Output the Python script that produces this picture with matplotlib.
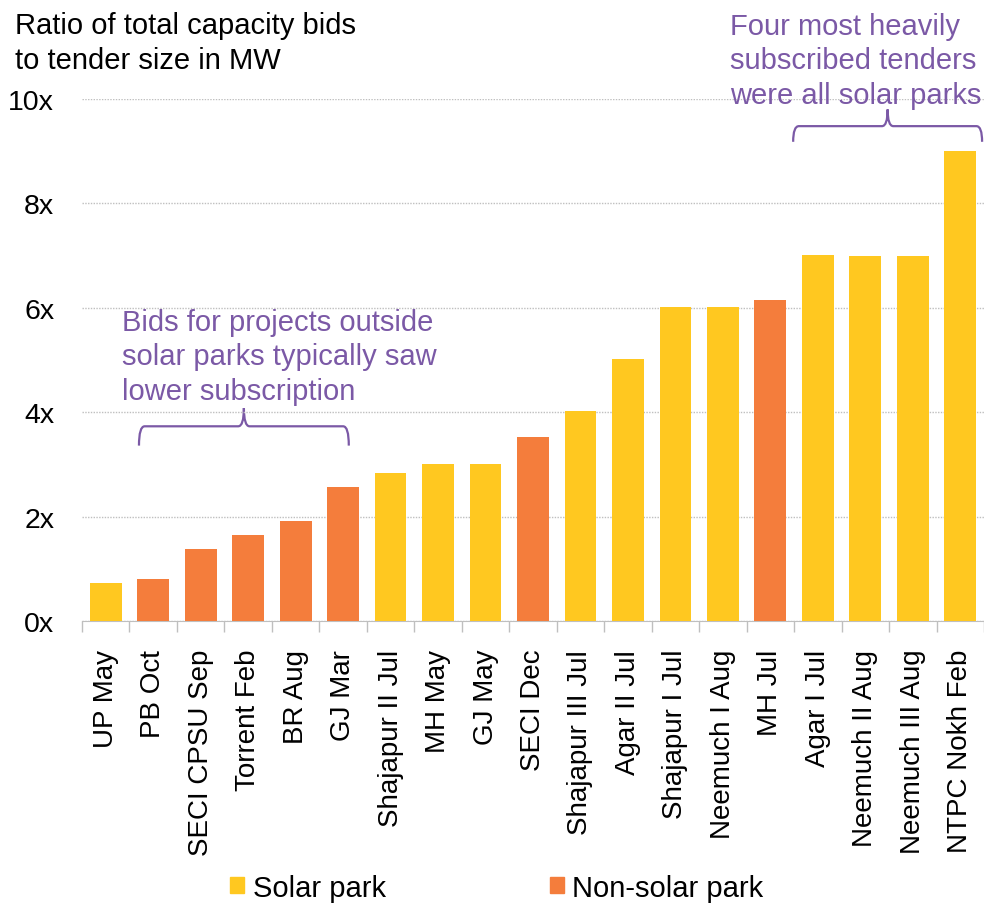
import numpy as np
import matplotlib
matplotlib.use("Agg")
import matplotlib.pyplot as plt
from matplotlib.path import Path
from matplotlib.patches import PathPatch, Patch

plt.rcParams['font.family'] = ['Liberation Sans', 'DejaVu Sans']

tenders = ["UP May", "PB Oct", "SECI CPSU Sep", "Torrent Feb", "BR Aug", "GJ Mar",
           "Shajapur II Jul", "MH May", "GJ May", "SECI Dec", "Shajapur III Jul",
           "Agar II Jul", "Shajapur I Jul", "Neemuch I Aug", "MH Jul", "Agar I Jul",
           "Neemuch II Aug", "Neemuch III Aug", "NTPC Nokh Feb"]
ratio = [0.73, 0.81, 1.38, 1.65, 1.92, 2.57, 2.84, 3.0, 3.0, 3.53, 4.03,
         5.02, 6.02, 6.02, 6.14, 7.02, 7.0, 7.0, 9.0]
park_type = ["Solar park", "Non-solar park", "Non-solar park", "Non-solar park",
             "Non-solar park", "Non-solar park", "Solar park", "Solar park",
             "Solar park", "Non-solar park", "Solar park", "Solar park",
             "Solar park", "Solar park", "Non-solar park", "Solar park",
             "Solar park", "Solar park", "Solar park"]
yticks = [0, 2, 4, 6, 8, 10]

colors = {"Solar park": "#FFC820", "Non-solar park": "#F47D3C"}
purple = "#7B59A6"
grey = "#BFBFBF"


def brace(ax, x0, x1, y, h, tip):
    # curly bracket opening downwards, drawn in data coords
    xm = (x0 + x1) / 2
    d = 0.12
    verts = [(x0, y - h), (x0, y), (x0 + d, y),
             (xm - d, y), (xm, y), (xm, y + tip),
             (xm, y), (xm + d, y),
             (x1 - d, y), (x1, y), (x1, y - h)]
    codes = [Path.MOVETO, Path.CURVE3, Path.CURVE3,
             Path.LINETO, Path.CURVE3, Path.CURVE3,
             Path.CURVE3, Path.CURVE3,
             Path.LINETO, Path.CURVE3, Path.CURVE3]
    ax.add_patch(PathPatch(Path(verts, codes), fill=False, ec=purple, lw=1.6,
                           clip_on=False))


fig = plt.figure(figsize=(9.84, 9.04), dpi=100)
ax = fig.add_axes([82 / 984, 1 - 622 / 904, 902 / 984, 522 / 904])

x = np.arange(len(tenders))
ax.bar(x, ratio, width=0.67, color=[colors[t] for t in park_type], zorder=3)

ax.set_xlim(-0.5, len(tenders) - 0.5)
ax.set_ylim(0, 10)
ax.set_yticks(yticks)
ax.set_yticklabels([f"{v}x" for v in yticks], fontsize=20.5)
ax.set_xticks(x)
ax.set_xticklabels(tenders, rotation=90, fontsize=20)
ax.set_xticks(np.arange(len(tenders) + 1) - 0.5, minor=True)
ax.tick_params(axis='x', which='major', length=0, pad=20)
ax.tick_params(axis='x', which='minor', length=8, color=grey, width=1)
ax.tick_params(axis='y', length=0, pad=20)

for s in ['left', 'right', 'top']:
    ax.spines[s].set_visible(False)
ax.spines['bottom'].set_color(grey)
ax.yaxis.grid(True, color=grey, linestyle=(0, (1, 1)), linewidth=1, zorder=0)

# annotations
ax.text(0.34, 6.0, "Bids for projects outside\nsolar parks typically saw\nlower subscription",
        fontsize=21, color=purple, va='top', ha='left', linespacing=1.3)
brace(ax, 0.7, 5.12, 3.73, 0.37, 0.35)

ax.text(13.15, 11.67, "Four most heavily\nsubscribed tenders\nwere all solar parks",
        fontsize=21, color=purple, va='top', ha='left', linespacing=1.3, clip_on=False)
brace(ax, 14.48, 18.46, 9.48, 0.3, 0.32)

fig.text(15 / 984, 1 - 12 / 904, "Ratio of total capacity bids\nto tender size in MW",
         fontsize=21, va='top', ha='left', linespacing=1.3)

handles = [Patch(color=colors[k]) for k in ["Solar park", "Non-solar park"]]
fig.legend(handles, ["Solar park", "Non-solar park"], loc='center',
           bbox_to_anchor=(0.505, 0.017), ncol=2, frameon=False, fontsize=21,
           handlelength=0.48, handleheight=0.48, handletextpad=0.3,
           columnspacing=5.6, borderpad=0)

fig.savefig("out.png", dpi=100)
